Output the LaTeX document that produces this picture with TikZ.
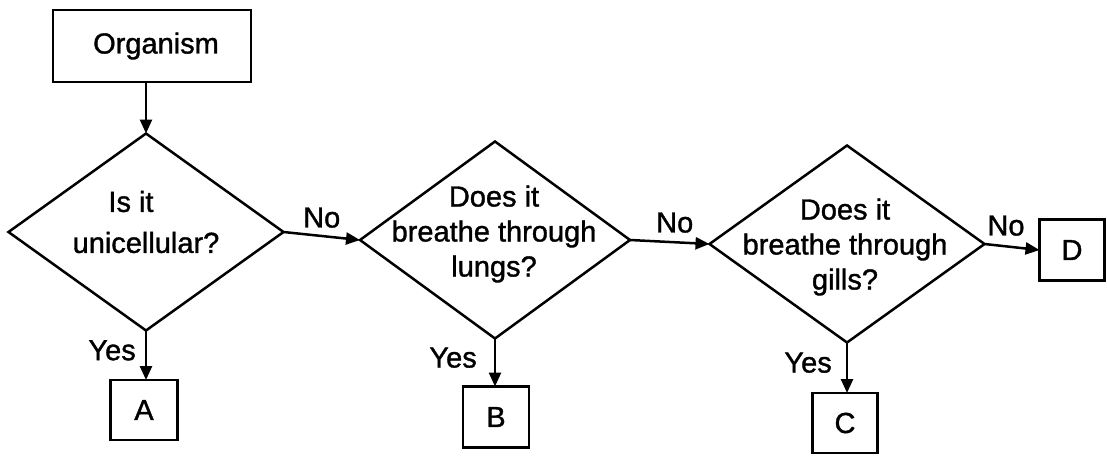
\documentclass[tikz,border=0pt]{standalone}
\usepackage{fontspec}
\setmainfont{Liberation Sans}[BoldFont={Liberation Sans}, BoldFeatures={FakeBold=1.2}]
\usetikzlibrary{shapes.geometric,arrows.meta}
\begin{document}
\begin{tikzpicture}[x=1pt,y=-1pt,
  every node/.style={font=\fontsize{29}{35}\selectfont\bfseries},
  box/.style={draw, line width=2.5pt, inner sep=0pt, outer sep=0pt},
  dia/.style={draw, diamond, line width=2.5pt, inner sep=0pt, outer sep=0pt},
  txt/.style={align=center, inner sep=0pt},
  arr/.style={line width=2.5pt, -{Triangle[length=14pt,width=12pt]}},
  lbl/.style={inner sep=3pt}]
\useasboundingbox (0,0) rectangle (1107,455);
% boxes
\node[box, minimum width=198pt, minimum height=72pt] (org) at (152,46) {\hspace*{8pt}Organism};
\node[box, minimum width=67pt, minimum height=60pt] (A) at (144,410) {A};
\node[box, minimum width=66pt, minimum height=61pt] (B) at (496,417) {B};
\node[box, minimum width=65pt, minimum height=60pt] (C) at (845,423) {C};
\node[box, minimum width=65pt, minimum height=61pt] (D) at (1072,250) {D};
% decisions
\node[dia, minimum width=275pt, minimum height=197pt] (d1) at (146,232) {};
\node[dia, minimum width=270pt, minimum height=197pt] (d2) at (495,240) {};
\node[dia, minimum width=275pt, minimum height=197pt] (d3) at (847,244) {};
\node[txt] (t1) at (146,222) {Is it\hspace*{30pt}\\[6pt] unicellular?};
\node[txt] (t2) at (494,234) {Does it\\ breathe through\\ lungs?};
\node[txt] (t3) at (845,247) {Does it\\ breathe through\\ gills?};
% connectors
\draw[arr] (d1.north |- org.south) -- (d1.north);
\draw[arr] (d1.east) -- node[lbl, above, yshift=4pt] {No} (d2.west);
\draw[arr] (d2.east) -- node[lbl, above, yshift=5pt, xshift=5pt] {No} (d3.west);
\draw[arr] (d3.east) -- node[lbl, above, yshift=7pt, xshift=-6pt] {No} (D.west);
\draw[arr] (d1.south) -- node[lbl, left, pos=0.4, xshift=-6pt] {Yes} (d1.south |- A.north);
\draw[arr] (d2.south) -- node[lbl, left, pos=0.4, xshift=-14pt] {Yes} (d2.south |- B.north);
\draw[arr] (d3.south) -- node[lbl, left, pos=0.4, xshift=-11pt] {Yes} (d3.south |- C.north);
\end{tikzpicture}
\end{document}
